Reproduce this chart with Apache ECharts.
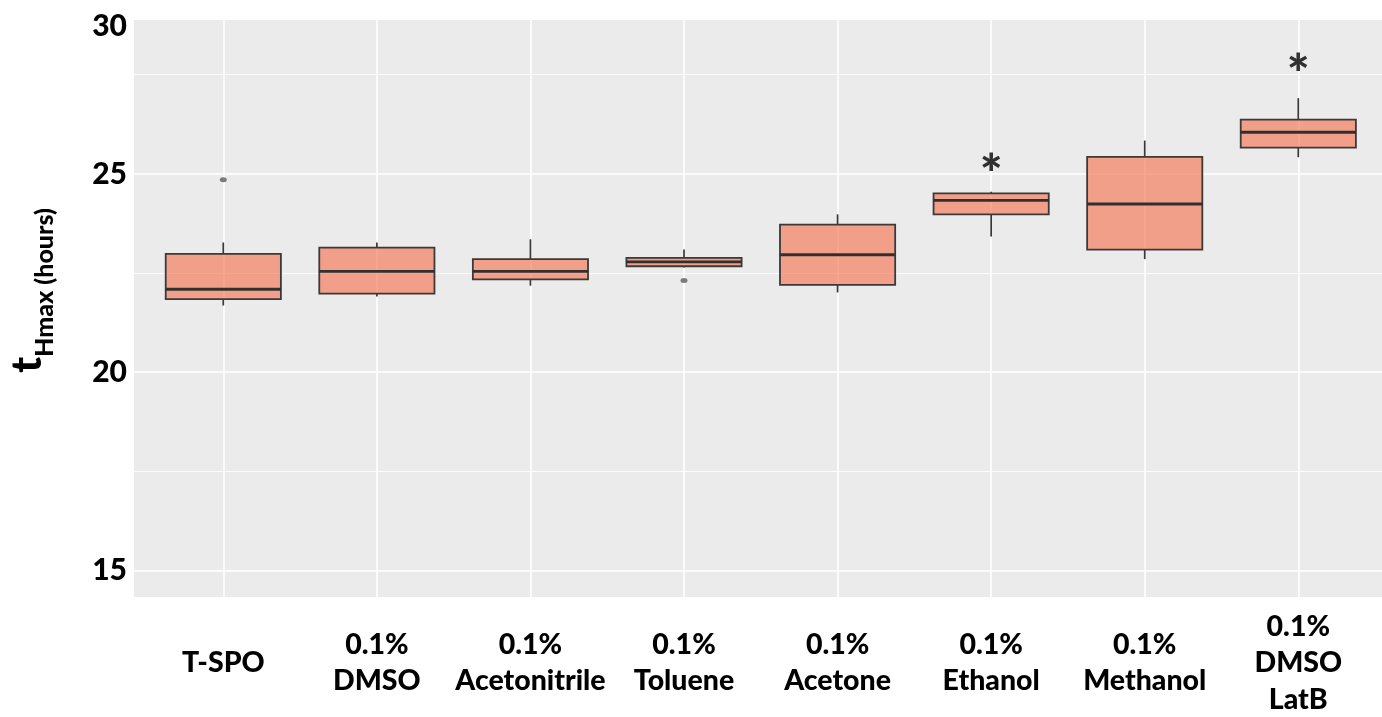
<!DOCTYPE html>
<html>
<head>
<meta charset="utf-8">
<script src="https://cdn.jsdelivr.net/npm/echarts@6/dist/echarts.min.js"></script>
<style>
html,body{margin:0;padding:0;background:#fff;}
#chart{width:1382px;height:717px;}
</style>
</head>
<body>
<div id="chart"></div>
<script>
// ---- data ----
const categories = ['T-SPO', '0.1%\nDMSO', '0.1%\nAcetonitrile', '0.1%\nToluene', '0.1%\nAcetone', '0.1%\nEthanol', '0.1%\nMethanol', '0.1%\nDMSO\nLatB'];
const lowVals  = [21.68, 21.91, 22.18, 22.64, 22.01, 23.42, 22.85, 25.42];
const q1Vals   = [21.84, 21.98, 22.34, 22.67, 22.20, 23.98, 23.09, 25.66];
const medVals  = [22.09, 22.54, 22.54, 22.78, 22.96, 24.33, 24.24, 26.05];
const q3Vals   = [22.98, 23.14, 22.85, 22.88, 23.72, 24.51, 25.43, 26.37];
const highVals = [23.27, 23.27, 23.35, 23.09, 23.98, 24.55, 25.84, 26.91];
const outlierCats = [0, 3];
const outlierVals = [24.85, 22.31];
const sigCats = [5, 7];
const sigVals = [25.31, 27.83];
const yMin = 14.33, yMax = 28.88;
const majorTicks = [15, 20, 25];
const minorTicks = [17.5, 22.5, 27.5];
const yLabelValues = [15, 20, 25, 28.72];
const yLabelTexts = ['15', '20', '25', '30'];

const boxRows = categories.map((c, i) => [i, lowVals[i], q1Vals[i], medVals[i], q3Vals[i], highVals[i]]);
const outlierData = outlierCats.map((c, i) => [c, outlierVals[i]]);
const sigData = sigCats.map((c, i) => [c, sigVals[i]]);

const FONT = 'Lato';
const W = 900;
const chart = echarts.init(document.getElementById('chart'), null, {renderer: 'canvas'});

function renderBox(params, api) {
  const x = api.value(0);
  const lo = api.coord([x, api.value(1)]);
  const q1 = api.coord([x, api.value(2)]);
  const md = api.coord([x, api.value(3)]);
  const q3 = api.coord([x, api.value(4)]);
  const hi = api.coord([x, api.value(5)]);
  const w = api.size([1, 0])[0] * 0.75;
  const cx = lo[0];
  const lineStyle = {stroke: '#383838', lineWidth: 1.7};
  return {
    type: 'group',
    children: [
      {type: 'line', shape: {x1: cx, y1: hi[1], x2: cx, y2: q3[1]}, style: lineStyle},
      {type: 'line', shape: {x1: cx, y1: q1[1], x2: cx, y2: lo[1]}, style: lineStyle},
      {type: 'rect', shape: {x: cx - w / 2, y: q3[1], width: w, height: q1[1] - q3[1]},
        style: {fill: 'rgba(246,120,87,0.66)', stroke: '#3a3a3a', lineWidth: 1.8}},
      {type: 'line', shape: {x1: cx - w / 2, y1: md[1], x2: cx + w / 2, y2: md[1]},
        style: {stroke: '#303030', lineWidth: 2.8}}
    ]
  };
}

const option = {
  animation: false,
  backgroundColor: '#ffffff',
  grid: [
    {left: 134, right: 0, top: 20, bottom: 120, show: true, backgroundColor: '#EBEBEB', borderWidth: 0, containLabel: false, outerBoundsMode: 'none'},
    {left: 223.3, right: 83.7, top: 20, bottom: 120, show: false, containLabel: false, outerBoundsMode: 'none'}
  ],
  xAxis: [
    {type: 'value', gridIndex: 0, show: false, min: 0, max: 1},
    {
      type: 'category', gridIndex: 1, data: categories, boundaryGap: false,
      axisLine: {show: false}, axisTick: {show: false},
      splitLine: {show: true, lineStyle: {color: '#ffffff', width: 1.6}},
      axisLabel: {
        interval: 0, color: '#000', fontFamily: FONT, fontWeight: W, fontSize: 28.5,
        lineHeight: 36.5, verticalAlign: 'middle', margin: 66, align: 'center'
      }
    }
  ],
  yAxis: [
    {
      type: 'value', gridIndex: 0, min: yMin, max: yMax,
      axisLine: {show: false},
      axisTick: {show: false, customValues: majorTicks},
      splitLine: {show: true, lineStyle: {color: '#ffffff', width: 1.6}},
      axisLabel: {
        customValues: yLabelValues, showMinLabel: true, showMaxLabel: true,
        formatter: v => { const k = yLabelValues.indexOf(v); return k >= 0 ? yLabelTexts[k] : ''; },
        color: '#000', fontFamily: FONT, fontWeight: W, fontSize: 30, margin: 7
      },
      name: '{t|t}{s|Hmax (hours)}',
      nameLocation: 'middle', nameRotate: 90, nameGap: 77,
      nameTextStyle: {
        padding: [0, 0, 0, 36],
        rich: {
          t: {fontFamily: FONT, fontWeight: W, fontSize: 42, color: '#000', padding: [0, 0, 9, 0]},
          s: {fontFamily: FONT, fontWeight: W, fontSize: 25, color: '#000', verticalAlign: 'bottom'}
        }
      }
    },
    {
      type: 'value', gridIndex: 0, min: yMin, max: yMax,
      axisLine: {show: false}, axisLabel: {show: false},
      axisTick: {show: false, customValues: minorTicks},
      splitLine: {show: true, lineStyle: {color: '#ffffff', width: 0.8}}
    },
    {type: 'value', gridIndex: 1, min: yMin, max: yMax, show: false, splitLine: {show: false}}
  ],
  series: [
    {
      type: 'custom', xAxisIndex: 1, yAxisIndex: 2, renderItem: renderBox,
      data: boxRows, encode: {x: 0, y: [1, 2, 3, 4, 5]}, z: 5
    },
    {
      type: 'scatter', xAxisIndex: 1, yAxisIndex: 2, data: outlierData,
      symbol: 'circle', symbolSize: [7, 5], itemStyle: {color: '#5e5e5e'}, z: 6
    },
    {
      type: 'scatter', xAxisIndex: 1, yAxisIndex: 2, data: sigData,
      symbolSize: 0, z: 7,
      label: {show: true, position: 'inside', offset: [0, 14], formatter: '*', fontFamily: FONT, fontWeight: W, fontSize: 54, color: '#000'}
    }
  ]
};
chart.setOption(option);
</script>
</body>
</html>
